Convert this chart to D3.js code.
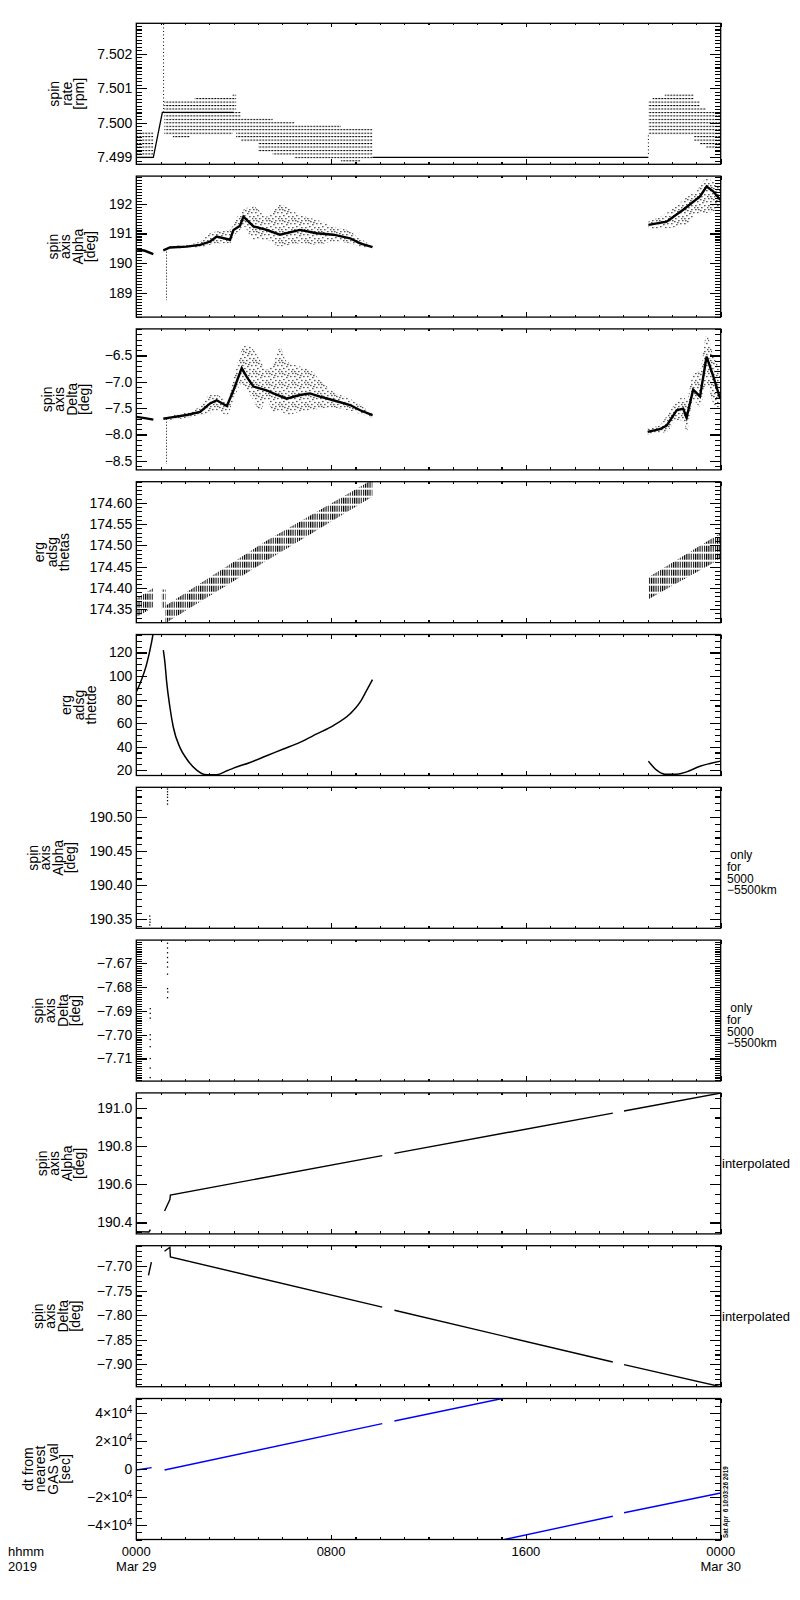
<!DOCTYPE html>
<html>
<head>
<meta charset="utf-8">
<script src="https://cdn.jsdelivr.net/npm/d3@7"></script>
<style>
  body { margin: 0; background: #fff; }
  text { font-family: "Liberation Sans", Arial, sans-serif; }
</style>
</head>
<body>
<script>
// Data (time in hours from 0000 Mar 29)
// ===========================================================
var timeMajor = [0, 8, 16, 24];
var timeLabels = ["0000", "0800", "1600", "0000"];
var dateLabels = ["Mar 29", "", "", "Mar 30"];

// panel 1: spin rate [rpm]  -> bands are [t, low, high]
var rateDomain = [7.4988, 7.50288];
var rateTicks = [7.499, 7.500, 7.501, 7.502];
var rateBandEarly = [[0, 7.4990, 7.4997], [0.7, 7.4990, 7.4997]];
var rateBandMain = [
  [1.15, 7.4997, 7.5006], [1.5, 7.4996, 7.5006], [2.2, 7.4997, 7.5006],
  [2.4, 7.4997, 7.5007], [3.95, 7.4998, 7.5008], [4.1, 7.4996, 7.5003],
  [4.3, 7.4995, 7.5001], [5.0, 7.4992, 7.5001], [5.6, 7.4991, 7.5000],
  [6.5, 7.4990, 7.4999], [7.8, 7.4990, 7.4999], [8.4, 7.4989, 7.4998],
  [9.2, 7.4990, 7.4998], [9.7, 7.4990, 7.4998]
];
var rateBandLate = [
  [21.03, 7.4997, 7.5006], [21.2, 7.4997, 7.5007], [21.7, 7.4997, 7.5008],
  [22.9, 7.4995, 7.5006], [23.15, 7.4994, 7.5004], [23.4, 7.4993, 7.5003],
  [24, 7.4993, 7.5003]
];
var rateLineEarly = [[0, 7.4990], [0.7, 7.4990], [1.07, 7.5003], [4.0, 7.5003]];
var rateLineGap = [[9.7, 7.4990], [21.03, 7.4990]];
var rateSpike = [[1.12, 7.5003], [1.12, 7.5029]];
var rateSpikeLate = [[21.03, 7.4991], [21.03, 7.4997]];

// panel 2: spin axis Alpha [deg]
var alphaDomain = [188.19, 192.93];
var alphaTicks = [189, 190, 191, 192];
var alphaLineEarly = [[0, 190.47], [0.35, 190.42], [0.7, 190.31]];
var alphaSpike = [[1.24, 190.39], [1.24, 188.76]];
var alphaCloudMain = [
  [1.11, 190.40, 190.45], [1.38, 190.49, 190.56], [2.07, 190.51, 190.62],
  [2.62, 190.51, 190.73], [3.03, 190.62, 191.01], [3.30, 190.67, 191.07],
  [3.85, 190.67, 191.12], [3.99, 190.90, 191.35], [4.26, 191.12, 191.69],
  [4.40, 191.24, 191.80], [4.81, 190.79, 191.91], [5.35, 190.79, 191.57],
  [5.90, 190.56, 191.97], [6.72, 190.67, 191.63], [7.41, 190.62, 191.46],
  [8.09, 190.73, 191.24], [8.78, 190.67, 191.07], [9.19, 190.56, 190.84],
  [9.70, 190.49, 190.58]
];
var alphaCoreMain = [
  [1.11, 190.43], [1.38, 190.53], [2.07, 190.56], [2.62, 190.62], [3.03, 190.73],
  [3.30, 190.90], [3.85, 190.79], [3.99, 191.12], [4.26, 191.26], [4.40, 191.57],
  [4.81, 191.24], [5.35, 191.12], [5.90, 190.96], [6.72, 191.12], [7.41, 191.01],
  [8.09, 190.96], [8.78, 190.84], [9.19, 190.67], [9.70, 190.54]
];
var alphaCloudLate = [
  [21.03, 191.15, 191.40], [21.78, 191.18, 191.69], [22.46, 191.24, 192.13],
  [23.15, 191.69, 192.58], [23.42, 191.69, 192.87], [23.69, 191.74, 192.75],
  [23.99, 191.91, 192.58]
];
var alphaCoreLate = [
  [21.03, 191.29], [21.78, 191.40], [22.46, 191.80], [23.15, 192.25],
  [23.42, 192.58], [23.69, 192.42], [23.99, 192.13]
];

// panel 3: spin axis Delta [deg]
var deltaDomain = [-8.672, -5.995];
var deltaTicks = [-8.5, -8.0, -7.5, -7.0, -6.5];
var deltaLineEarly = [[0, -7.666], [0.35, -7.69], [0.7, -7.717]];
var deltaSpike = [[1.24, -7.70], [1.24, -8.56]];
var deltaCloudMain = [
  [1.11, -7.72, -7.68], [1.38, -7.72, -7.65], [2.07, -7.68, -7.57],
  [2.62, -7.63, -7.47], [3.03, -7.60, -7.25], [3.30, -7.54, -7.25],
  [3.72, -7.63, -7.35], [3.99, -7.35, -6.96], [4.33, -7.03, -6.39],
  [4.53, -7.16, -6.30], [4.81, -7.35, -6.39], [5.08, -7.54, -6.58],
  [5.35, -7.35, -6.77], [5.63, -7.57, -6.64], [5.90, -7.54, -6.36],
  [6.17, -7.63, -6.61], [6.72, -7.57, -6.71], [7.13, -7.54, -6.77],
  [7.54, -7.51, -6.96], [8.09, -7.49, -7.19], [8.78, -7.55, -7.32],
  [9.19, -7.61, -7.44], [9.70, -7.68, -7.60]
];
var deltaCoreMain = [
  [1.11, -7.70], [1.38, -7.68], [2.07, -7.63], [2.62, -7.57], [3.03, -7.41],
  [3.30, -7.35], [3.72, -7.46], [3.99, -7.16], [4.33, -6.74], [4.53, -6.90],
  [4.81, -7.09], [5.35, -7.16], [5.63, -7.22], [6.17, -7.32], [6.72, -7.25],
  [7.13, -7.22], [7.54, -7.28], [8.09, -7.35], [8.78, -7.44], [9.19, -7.54],
  [9.70, -7.63]
];
var deltaCloudLate = [
  [21.0, -8.00, -7.88], [21.5, -7.97, -7.82], [21.78, -7.95, -7.65],
  [22.19, -7.73, -7.38], [22.46, -7.73, -7.29], [22.6, -7.95, -7.35],
  [22.87, -7.35, -6.85], [23.15, -7.47, -6.79], [23.42, -7.03, -6.11],
  [23.7, -7.41, -6.49], [23.97, -7.51, -6.77]
];
var deltaCoreLate = [
  [21.0, -7.95], [21.5, -7.90], [21.78, -7.83], [22.19, -7.54], [22.46, -7.51],
  [22.6, -7.68], [22.87, -7.15], [23.15, -7.28], [23.42, -6.52], [23.7, -6.90],
  [23.97, -7.31]
];

// panel 4: erg adsg thetas
var thetasDomain = [174.318, 174.65];
var thetasTicks = [174.35, 174.40, 174.45, 174.50, 174.55, 174.60];
var thetasBandEarly = [[0, 174.33, 174.375], [0.7, 174.355, 174.40]];
var thetasBandShort = [[1.05, 174.352, 174.396], [1.2, 174.352, 174.396]];
var thetasBandMain = [[1.2, 174.317, 174.358], [5.35, 174.464, 174.511], [9.7, 174.615, 174.655]];
var thetasBandLate = [[21.03, 174.373, 174.425], [23.97, 174.468, 174.528]];

// panel 5: erg adsg thetde
var thetdeDomain = [15.5, 135.3];
var thetdeTicks = [20, 40, 60, 80, 100, 120];
var thetdeEarly = [[0, 86.4], [0.15, 93.5], [0.43, 110.6], [0.63, 129.1], [0.7, 137]];
var thetdeMain = [
  [1.11, 122], [1.18, 110.6], [1.24, 96.3], [1.38, 73.5], [1.52, 56.5],
  [1.79, 39.4], [2.07, 29.5], [2.48, 20.1], [2.89, 16.1], [3.30, 16.1],
  [3.72, 19.5], [3.99, 21.8], [4.67, 26.6], [5.35, 32.3], [6.04, 38.0],
  [6.72, 43.7], [7.41, 50.8], [8.09, 57.9], [8.78, 67.9], [9.19, 77.8],
  [9.46, 87.8], [9.70, 96.9]
];
var thetdeLate = [
  [21.03, 27.7], [21.37, 20.0], [21.71, 16.6], [22.19, 16.6], [22.60, 18.6],
  [23.15, 23.4], [23.56, 25.7], [23.99, 27.7]
];

// panel 6: spin axis Alpha, only for 5000-5500km
var alphaOnlyDomain = [190.337, 190.5435];
var alphaOnlyTicks = [190.35, 190.40, 190.45, 190.50];
var alphaOnlyPoints = [
  [1.28, 190.541], [1.28, 190.537], [1.28, 190.533], [1.28, 190.529],
  [1.28, 190.524], [1.28, 190.519], [0.55, 190.355], [0.56, 190.350],
  [0.56, 190.346], [0.55, 190.342]
];

// panel 7: spin axis Delta, only for 5000-5500km
var deltaOnlyDomain = [-7.7195, -7.6602];
var deltaOnlyTicks = [-7.71, -7.70, -7.69, -7.68, -7.67];
var deltaOnlyPoints = [
  [1.28, -7.6615], [1.28, -7.6635], [1.28, -7.6655], [1.28, -7.6675],
  [1.28, -7.6695], [1.28, -7.6715], [1.28, -7.6745], [1.28, -7.6806],
  [1.29, -7.6820], [1.28, -7.6844], [0.57, -7.689], [0.57, -7.691],
  [0.57, -7.693], [0.57, -7.700], [0.57, -7.702], [0.57, -7.705],
  [0.57, -7.710], [0.57, -7.714], [0.57, -7.718]
];

// panel 8: spin axis Alpha, interpolated
var alphaIntDomain = [190.340, 191.079];
var alphaIntTicks = [190.4, 190.6, 190.8, 191.0];
var alphaIntA = [[0, 190.352], [0.52, 190.350], [0.58, 190.362]];
var alphaIntB = [[1.16, 190.46], [1.38, 190.52], [1.40, 190.544], [10.1, 190.75]];
var alphaIntC = [[10.6, 190.762], [19.57, 190.973]];
var alphaIntD = [[20.03, 190.984], [24, 191.078]];

// panel 9: spin axis Delta, interpolated
var deltaIntDomain = [-7.9455, -7.6588];
var deltaIntTicks = [-7.90, -7.85, -7.80, -7.75, -7.70];
var deltaIntA = [[0.50, -7.719], [0.62, -7.692]];
var deltaIntB = [[1.16, -7.670], [1.38, -7.662], [1.40, -7.6816], [10.1, -7.7837]];
var deltaIntC = [[10.6, -7.790], [19.57, -7.8953]];
var deltaIntD = [[20.03, -7.9007], [24, -7.9455]];

// panel 10: dt from nearest GAS val [sec]
var dtDomain = [-50000, 50000];
var dtTicks = [-40000, -20000, 0, 20000, 40000];
var dtSegA = [[0, -700], [0.63, 1000]];
var dtSegB = [[1.16, -700], [10.1, 32200]];
var dtSegC = [[10.6, 34000], [15.08, 50200]];
var dtSegD = [[15.12, -50000], [19.57, -33500]];
var dtSegE = [[20.03, -31000], [24, -17000]];

// Step 1: Set up the chart
// =================================
var svgWidth = 800;
var svgHeight = 1600;
var margin = { left: 136.3, top: 23.3 };
var width = 584.4;
var panelH = 141;
var panelStep = 152.8;
var fontFam = '"Liberation Sans", Arial, sans-serif';

var svg = d3.select("body").append("svg")
  .attr("width", svgWidth)
  .attr("height", svgHeight);

var xScale = d3.scaleLinear().domain([0, 24]).range([0, width]);

var defs = svg.append("defs");

// stipple texture for scattered clouds (irregular tile)
var stip = defs.append("pattern").attr("id", "stipple")
  .attr("patternUnits", "userSpaceOnUse").attr("width", 13).attr("height", 11);
[[0, 0], [5, 1], [9, 0], [2, 3], [7, 4], [11, 3], [4, 6], [0, 7], [9, 7],
 [6, 9], [2, 9], [12, 9], [8, 2], [3, 0]].forEach(function(p) {
  stip.append("rect").attr("x", p[0]).attr("y", p[1]).attr("width", 1.2).attr("height", 1.2).attr("fill", "#000");
});

// vertical dash texture for the thetas band
var hatch = defs.append("pattern").attr("id", "hatch")
  .attr("patternUnits", "userSpaceOnUse").attr("width", 2.2).attr("height", 8);
hatch.append("rect").attr("x", 0).attr("y", 0).attr("width", 1.1).attr("height", 6).attr("fill", "#000");

var minus = function(s) { return s.replace("-", "\u2212"); };

function minorTicks(dom, step) {
  var a = Math.min(dom[0], dom[1]), b = Math.max(dom[0], dom[1]);
  var k0 = Math.ceil(a / step - 1e-6), k1 = Math.floor(b / step + 1e-6);
  return d3.range(k0, k1 + 1).map(function(k) { return +(k * step).toPrecision(12); });
}

function drawLine(g, data, y, opts) {
  opts = opts || {};
  g.append("path").datum(data)
    .attr("fill", "none")
    .attr("stroke", opts.color || "#000")
    .attr("stroke-width", opts.w || 1.2)
    .attr("stroke-dasharray", opts.dash || null)
    .attr("d", d3.line()
      .x(function(d) { return xScale(d[0]); })
      .y(function(d) { return y(d[1]); })
      .curve(opts.curve || d3.curveLinear));
}

function drawBand(g, data, y, fill, curve, pad) {
  pad = pad || 0;
  g.append("path").datum(data)
    .attr("fill", fill)
    .attr("d", d3.area()
      .x(function(d) { return xScale(d[0]); })
      .y0(function(d) { return y(d[1] - pad); })
      .y1(function(d) { return y(d[2] + pad); })
      .curve(curve || d3.curveLinear));
}

function drawDots(g, data, y) {
  g.selectAll(null).data(data).enter().append("rect")
    .attr("x", function(d) { return xScale(d[0]) - 0.6; })
    .attr("y", function(d) { return y(d[1]) - 0.6; })
    .attr("width", 1.3).attr("height", 1.3)
    .attr("fill", "#000");
}

// Step 2: Panel definitions
// =================================
var panels = [
  { domain: rateDomain, ticks: rateTicks, minor: 0.0001, fmt: function(d) { return d.toFixed(3); },
    title: ["spin", "rate", "[rpm]"], titleX: 84,
    draw: function(g, y) {
      var h = y(7.4990) - y(7.4991);
      var lev = defs.append("pattern").attr("id", "levels")
        .attr("patternUnits", "userSpaceOnUse")
        .attr("x", 0).attr("y", y(7.4990) - 0.5)
        .attr("width", 3).attr("height", h);
      lev.append("rect").attr("width", 2).attr("height", 1).attr("fill", "#000");
      [rateBandEarly, rateBandMain, rateBandLate].forEach(function(b) {
        drawBand(g, b, y, "url(#levels)", d3.curveStepAfter, 0.00005);
      });
      drawLine(g, rateLineEarly, y, { w: 1.3 });
      drawLine(g, rateLineGap, y, { w: 1.3 });
      drawLine(g, rateSpike, y, { w: 1, dash: "1,2.5" });
      drawLine(g, rateSpikeLate, y, { w: 1, dash: "1,2.5" });
    } },
  { domain: alphaDomain, ticks: alphaTicks, minor: 0.1, fmt: function(d) { return d.toFixed(0); },
    title: ["spin", "axis", "Alpha", "[deg]"], titleX: 95,
    draw: function(g, y) {
      drawBand(g, alphaCloudMain, y, "url(#stipple)", d3.curveMonotoneX);
      drawBand(g, alphaCloudLate, y, "url(#stipple)", d3.curveMonotoneX);
      drawLine(g, alphaCoreMain, y, { w: 2.4 });
      drawLine(g, alphaCoreLate, y, { w: 2.4 });
      drawLine(g, alphaLineEarly, y, { w: 2.4 });
      drawLine(g, alphaSpike, y, { w: 1, dash: "1,2" });
    } },
  { domain: deltaDomain, ticks: deltaTicks, minor: 0.1, fmt: function(d) { return minus(d.toFixed(1)); },
    title: ["spin", "axis", "Delta", "[deg]"], titleX: 89,
    draw: function(g, y) {
      drawBand(g, deltaCloudMain, y, "url(#stipple)", d3.curveMonotoneX);
      drawBand(g, deltaCloudLate, y, "url(#stipple)", d3.curveMonotoneX);
      drawLine(g, deltaCoreMain, y, { w: 2.4 });
      drawLine(g, deltaCoreLate, y, { w: 2.4 });
      drawLine(g, deltaLineEarly, y, { w: 2.4 });
      drawLine(g, deltaSpike, y, { w: 1, dash: "1,2" });
    } },
  { domain: thetasDomain, ticks: thetasTicks, minor: 0.01, fmt: function(d) { return d.toFixed(2); },
    title: ["erg", "adsg", "thetas"], titleX: 69,
    draw: function(g, y) {
      [thetasBandEarly, thetasBandShort, thetasBandMain, thetasBandLate].forEach(function(b) {
        drawBand(g, b, y, "url(#hatch)");
      });
    } },
  { domain: thetdeDomain, ticks: thetdeTicks, minor: 5, fmt: function(d) { return d.toFixed(0); },
    title: ["erg", "adsg", "thetde"], titleX: 96,
    draw: function(g, y) {
      [thetdeEarly, thetdeMain, thetdeLate].forEach(function(s) {
        drawLine(g, s, y, { w: 1.5, curve: d3.curveMonotoneX });
      });
    } },
  { domain: alphaOnlyDomain, ticks: alphaOnlyTicks, minor: 0.01, fmt: function(d) { return d.toFixed(2); },
    title: ["spin", "axis", "Alpha", "[deg]"], titleX: 75,
    side: [" only", "for", "5000", "\u22125500km"],
    draw: function(g, y) { drawDots(g, alphaOnlyPoints, y); } },
  { domain: deltaOnlyDomain, ticks: deltaOnlyTicks, minor: 0.001, fmt: function(d) { return minus(d.toFixed(2)); },
    title: ["spin", "axis", "Delta", "[deg]"], titleX: 80,
    side: [" only", "for", "5000", "\u22125500km"],
    draw: function(g, y) { drawDots(g, deltaOnlyPoints, y); } },
  { domain: alphaIntDomain, ticks: alphaIntTicks, minor: 0.05, fmt: function(d) { return d.toFixed(1); },
    title: ["spin", "axis", "Alpha", "[deg]"], titleX: 84, label: "interpolated",
    draw: function(g, y) {
      [alphaIntA, alphaIntB, alphaIntC, alphaIntD].forEach(function(s) { drawLine(g, s, y, { w: 1.4 }); });
    } },
  { domain: deltaIntDomain, ticks: deltaIntTicks, minor: 0.01, fmt: function(d) { return minus(d.toFixed(2)); },
    title: ["spin", "axis", "Delta", "[deg]"], titleX: 80, label: "interpolated",
    draw: function(g, y) {
      [deltaIntA, deltaIntB, deltaIntC, deltaIntD].forEach(function(s) { drawLine(g, s, y, { w: 1.4 }); });
    } },
  { domain: dtDomain, ticks: dtTicks, minor: 5000, fmt: function(d) { return d === 0 ? "0" : ""; },
    title: ["dt from", "nearest", "GAS val", "[sec]"], titleX: 70, sci: true,
    draw: function(g, y) {
      [dtSegA, dtSegB, dtSegC, dtSegD, dtSegE].forEach(function(s) { drawLine(g, s, y, { w: 1.4, color: "#0000ff" }); });
    } }
];

// Step 3: Draw each panel
// =================================
panels.forEach(function(p, i) {
  var top = margin.top + i * panelStep;
  var yScale = d3.scaleLinear().domain(p.domain).range([panelH, 0]);
  var g = svg.append("g").attr("transform", "translate(" + margin.left + "," + top + ")");

  defs.append("clipPath").attr("id", "clip" + i)
    .append("rect").attr("width", width).attr("height", panelH);
  var content = g.append("g").attr("clip-path", "url(#clip" + i + ")");
  p.draw(content, yScale);

  var minors = minorTicks(p.domain, p.minor);
  var hours = d3.range(0, 25, 1);

  function strip(sel) {
    sel.select(".domain").remove();
    sel.selectAll("line").attr("stroke-width", 1.1).attr("shape-rendering", "crispEdges");
  }

  // y axes, ticks pointing inward
  g.append("g").call(d3.axisLeft(yScale).tickValues(minors).tickSize(-6).tickFormat("")).call(strip);
  var left = g.append("g").call(d3.axisLeft(yScale).tickValues(p.ticks).tickSize(-11).tickPadding(4).tickFormat(p.fmt)).call(strip);
  left.selectAll("text").attr("font-family", fontFam).attr("font-size", 14).attr("fill", "#000");
  if (p.sci) {
    left.selectAll("text").filter(function(d) { return d !== 0; }).each(function(d) {
      var t = d3.select(this);
      t.append("tspan").text((d < 0 ? "\u2212" : "") + Math.abs(d / 10000) + "\u00d710");
      t.append("tspan").attr("dy", "-0.45em").attr("font-size", 10).text("4");
    });
  }
  var right = g.append("g").attr("transform", "translate(" + width + ",0)");
  right.append("g").call(d3.axisRight(yScale).tickValues(minors).tickSize(-6).tickFormat("")).call(strip);
  right.append("g").call(d3.axisRight(yScale).tickValues(p.ticks).tickSize(-11).tickFormat("")).call(strip);

  // x axes top and bottom
  g.append("g").attr("transform", "translate(0," + panelH + ")")
    .call(d3.axisBottom(xScale).tickValues(hours).tickSize(-2.5).tickFormat("")).call(strip);
  g.append("g").attr("transform", "translate(0," + panelH + ")")
    .call(d3.axisBottom(xScale).tickValues(timeMajor).tickSize(-5).tickFormat("")).call(strip);
  g.append("g").call(d3.axisTop(xScale).tickValues(hours).tickSize(-2).tickFormat("")).call(strip);
  g.append("g").call(d3.axisTop(xScale).tickValues(timeMajor).tickSize(-4).tickFormat("")).call(strip);

  // frame
  g.append("rect").attr("width", width).attr("height", panelH)
    .attr("fill", "none").attr("stroke", "#000").attr("stroke-width", 1.3);

  // y title, stacked rotated lines
  var n = p.title.length;
  p.title.forEach(function(s, k) {
    svg.append("text")
      .attr("transform", "translate(" + (p.titleX - (n - 1 - k) * 12.5) + "," + (top + panelH / 2) + ") rotate(-90)")
      .attr("text-anchor", "middle")
      .attr("font-size", 14)
      .attr("fill", "#000")
      .text(s);
  });

  // right-hand notes
  if (p.side) {
    p.side.forEach(function(s, k) {
      svg.append("text")
        .attr("x", 727).attr("y", top + 72 + k * 11.7)
        .attr("font-size", 12).attr("fill", "#000")
        .style("white-space", "pre")
        .text(s);
    });
  }
  if (p.label) {
    svg.append("text")
      .attr("x", 722).attr("y", top + panelH / 2 + 4.5)
      .attr("font-size", 13).attr("fill", "#000")
      .text(p.label);
  }
});

// Step 4: Time labels under the last panel
// =================================
var bottomG = svg.append("g").attr("transform", "translate(" + margin.left + ",0)");
bottomG.selectAll(".tl").data(timeMajor).enter().append("text")
  .attr("x", function(d) { return xScale(d); })
  .attr("y", 1556)
  .attr("text-anchor", "middle").attr("font-size", 13).attr("fill", "#000")
  .text(function(d, i) { return timeLabels[i]; });
bottomG.selectAll(".dl").data(timeMajor).enter().append("text")
  .attr("x", function(d) { return xScale(d); })
  .attr("y", 1571)
  .attr("text-anchor", "middle").attr("font-size", 13).attr("fill", "#000")
  .text(function(d, i) { return dateLabels[i]; });

svg.append("text").attr("x", 8).attr("y", 1556).attr("font-size", 13).text("hhmm");
svg.append("text").attr("x", 8).attr("y", 1571).attr("font-size", 13).text("2019");

// date stamp
svg.append("text")
  .attr("transform", "translate(728,1538) rotate(-90)")
  .attr("font-family", '"DejaVu Sans Mono", monospace')
  .attr("font-size", 6.3).attr("font-weight", "bold")
  .style("white-space", "pre")
  .text("Sat Apr  6 10:03:26 2019");
</script>
</body>
</html>
